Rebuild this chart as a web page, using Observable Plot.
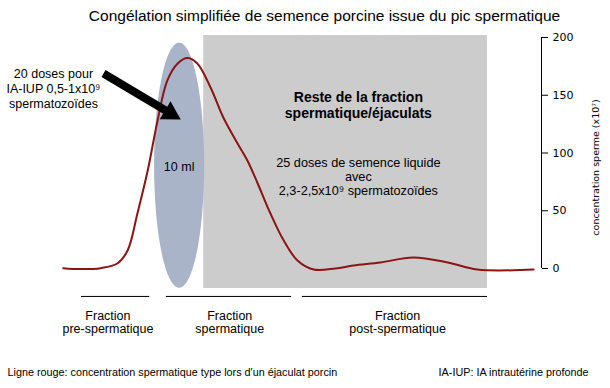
<!DOCTYPE html>
<html><head><meta charset="utf-8">
<script src="https://cdn.jsdelivr.net/npm/d3@7"></script>
<script src="https://cdn.jsdelivr.net/npm/@observablehq/plot@0.6"></script>
<style>body{margin:0;background:#fff}</style>
</head><body><div id="chart"></div>
<script>
// ---- data ----
const title = "Congélation simplifiée de semence porcine issue du pic spermatique";
const curveX = [2.6, 6.1, 10.2, 13.6, 15.7, 17.7, 19.8, 21.8, 23.8, 25.9, 27.9, 29.9, 32.6, 35.2, 38.1, 40.1, 42.2, 44.8, 47.5, 50.3, 53.6, 58.0, 61.7, 67.2, 73.9, 80.9, 86.9, 98.4];
const curveY = [0.3, -0.5, 0.3, 4.3, 15.6, 47.6, 84.8, 128, 162.8, 177.5, 182.2, 177.5, 156.7, 130.7, 108.2, 93.5, 73.6, 47.6, 24.2, 6.9, -0.9, 0, 2.6, 5.2, 9.5, 5.2, -0.9, -0.9];
const yTicks = [0, 50, 100, 150, 200];
const fractionLabels = ["Fraction\npre-spermatique", "Fraction\nspermatique", "Fraction\npost-spermatique"];
const fractionStart = [6.3, 23.6, 51.3];
const fractionEnd = [20.2, 49.1, 89.0];
const fractionCenter = [11.7, 36.5, 70.7];
const restX = [31.2, 89.0];
const restY = [-17.3, 201.7];
const doseZoneCenter = [26.3, 89.0];
const doseZoneRadius = [5.1, 106.1];
const arrowTail = [10.8, 168.8];
const arrowHead = [24.4, 134.4];
const leftNote = "20 doses pour\nIA-IUP 0,5-1x10⁹\nspermatozoïdes";
const restTitle = "Reste de la fraction\nspermatique/éjaculats";
const restNote = "25 doses de semence liquide\navec\n2,3-2,5x10⁹ spermatozoïdes";
const volumeLabel = "10 ml";
const yLabel = "concentration sperme (x10⁷)";
const footLeft = "Ligne rouge: concentration spermatique type lors d'un éjaculat porcin";
const footRight = "IA-IUP: IA intrautérine profonde";

// ---- derived tables ----
const curve = curveX.map((x, i) => ({x, y: curveY[i]}));
const fractions = fractionLabels.map((label, i) => ({label, x1: fractionStart[i], x2: fractionEnd[i], xc: fractionCenter[i]}));
const ellipse = d3.range(0, 181).map(i => {
  const t = Math.PI * i / 180;
  const y = doseZoneCenter[1] - doseZoneRadius[1] * Math.cos(t);
  const w = doseZoneRadius[0] * Math.sin(t);
  return {y, x1: doseZoneCenter[0] - w, x2: doseZoneCenter[0] + w};
});

const font = "'Liberation Sans', Arial, sans-serif";
const vfont = "'DejaVu Sans', Verdana, sans-serif";
const chart = Plot.plot({
  width: 610, height: 388,
  marginLeft: 50, marginRight: 69, marginTop: 37, marginBottom: 120,
  style: {fontFamily: font, background: "#fff", overflow: "visible"},
  x: {domain: [0, 100], axis: null},
  y: {domain: [0, 200], axis: null},
  marks: [
    Plot.rect([{}], {x1: restX[0], x2: restX[1], y1: restY[0], y2: restY[1], fill: "#cccccc"}),
    Plot.areaX(ellipse, {y: "y", x1: "x1", x2: "x2", fill: "#a9b4c9"}),
    Plot.line(curve, {x: "x", y: "y", stroke: "#8b1414", strokeWidth: 2, curve: "catmull-rom"}),
    Plot.link([{}], {x1: arrowTail[0], y1: arrowTail[1], x2: arrowHead[0], y2: arrowHead[1], stroke: "black", strokeWidth: 8}),
    Plot.dot([{}], {x: arrowHead[0], y: arrowHead[1], symbol: "triangle", r: 7.8, fill: "black", stroke: "none", rotate: 121}),
    Plot.axisY({anchor: "right", ticks: yTicks, tickSize: 6, tickPadding: 5, fontSize: 11, fontFamily: vfont, label: null, stroke: "black"}),
    Plot.ruleX([100], {y1: 0, y2: 200, stroke: "black"}),
    Plot.text([yLabel], {x: 111, y: 87.5, text: d => d, rotate: -90, fontSize: 9.5, fontFamily: vfont, fill: "black"}),
    Plot.text([title], {x: 55.8, y: 218.2, text: d => d, fontSize: 15.5, fill: "black"}),
    Plot.text([leftNote], {x: 0.6, y: 155.8, text: d => d, fontSize: 12.5, lineHeight: 1.2, fill: "black"}),
    Plot.text([volumeLabel], {x: 26.2, y: 88.3, text: d => d, fontSize: 12.5, fill: "black"}),
    Plot.text([restTitle], {x: 62.7, y: 141.6, text: d => d, fontSize: 14, fontWeight: "bold", lineHeight: 1.1, fill: "black"}),
    Plot.text([restNote], {x: 62.7, y: 79.7, text: d => d, fontSize: 12.7, lineHeight: 1.12, fill: "black"}),
    Plot.ruleY(fractions, {y: -24.2, x1: "x1", x2: "x2", stroke: "black", strokeWidth: 1}),
    Plot.text(fractions, {x: "xc", y: -46.8, text: "label", fontSize: 12.5, lineHeight: 1.0, fill: "black"}),
    Plot.text([footLeft], {x: -8.76, y: -90, text: d => d, textAnchor: "start", fontSize: 10.8, fill: "black"}),
    Plot.text([footRight], {x: 109.6, y: -90, text: d => d, textAnchor: "end", fontSize: 10.8, fill: "black"})
  ]
});
document.getElementById("chart").append(chart);
</script>
</body></html>
